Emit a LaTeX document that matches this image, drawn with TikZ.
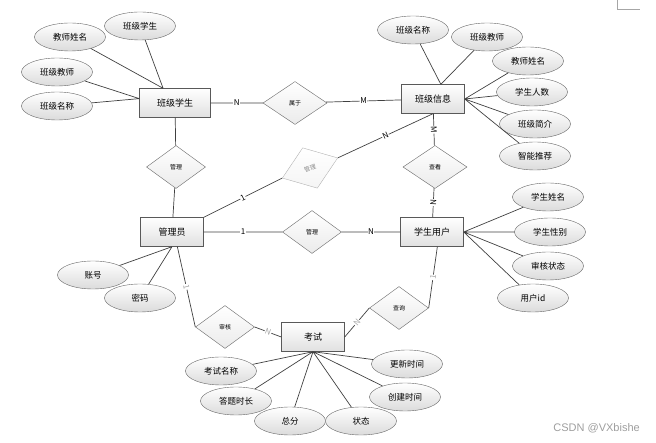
\documentclass[tikz,border=0pt]{standalone}
\usepackage{fontspec}
\setmainfont{Noto Sans CJK SC}
\newfontfamily\wmfont{Liberation Sans}
\usetikzlibrary{shapes.geometric}

\tikzset{
  shiti/.style={draw=black!65, top color=white, bottom color=black!12, minimum width=63pt, minimum height=29pt, inner sep=0pt, font=\fontsize{9}{11}\selectfont},
  shuxing/.style={ellipse, draw=black!60, top color=white, bottom color=black!14, minimum width=71pt, minimum height=28pt, inner sep=0pt, font=\fontsize{8.5}{10}\selectfont},
  lianxi/.style={diamond, draw=black!60, top color=white, bottom color=black!8, minimum width=59pt, minimum height=43pt, inner sep=0pt, font=\fontsize{6}{7}\selectfont},
  xian/.style={draw=black!75, line width=0.7pt},
  biao/.style={font=\fontsize{8}{9}\selectfont, fill=white, inner sep=0.6pt}
}

\begin{document}
\begin{tikzpicture}[x=1pt, y=-1pt]
\useasboundingbox (0,0) rectangle (656,443);

% Entitaeten
\node[shiti, minimum width=71pt] (banji) at (175,103) {班级学生};
\node[shiti] (xinxi) at (433,99) {班级信息};
\node[shiti] (guanli) at (172,232) {管理员};
\node[shiti] (xuesheng) at (432,232) {学生用户};
\node[shiti] (kaoshi) at (313,337) {考试};

% Beziehungen
\node[lianxi, minimum width=64pt] (shuyu) at (295,103) {属于};
\node[lianxi] (gl1) at (176,167) {管理};
\node[lianxi, rotate=20, draw=black!30, bottom color=black!4, text=black!45] (gl2) at (310,168) {管理};
\node[lianxi, minimum width=64pt] (chakan) at (435,167) {查看};
\node[lianxi] (gl3) at (312,232) {管理};
\node[lianxi] (shenhe) at (225,327) {审核};
\node[lianxi] (chaxun) at (399,308) {查询};

% Attribute
\node[shuxing] (a1) at (140,26) {班级学生};
\node[shuxing] (a2) at (70,37) {教师姓名};
\node[shuxing] (a3) at (57,72) {班级教师};
\node[shuxing] (a4) at (57,106) {班级名称};

\node[shuxing] (b1) at (413,30) {班级名称};
\node[shuxing] (b2) at (487,37) {班级教师};
\node[shuxing] (b3) at (528,61) {教师姓名};
\node[shuxing] (b4) at (532,92) {学生人数};
\node[shuxing] (b5) at (535,124) {班级简介};
\node[shuxing] (b6) at (535,156) {智能推荐};

\node[shuxing] (c1) at (93,275) {账号};
\node[shuxing] (c2) at (140,298) {密码};

\node[shuxing] (d1) at (548,197) {学生姓名};
\node[shuxing] (d2) at (550,232) {学生性别};
\node[shuxing] (d3) at (548,266) {审核状态};
\node[shuxing] (d4) at (533,298) {用户id};

\node[shuxing] (e1) at (221,371) {考试名称};
\node[shuxing] (e2) at (236,401) {答题时长};
\node[shuxing] (e3) at (290,421) {总分};
\node[shuxing] (e4) at (361,421) {状态};
\node[shuxing] (e5) at (407,364) {更新时间};
\node[shuxing] (e6) at (405,397) {创建时间};

\node[text=black!38, font=\wmfont\fontsize{11}{13}\selectfont, anchor=east, inner sep=0pt] (shuiyin) at (640,428) {CSDN @VXbishe};

\draw[xian]
(banji) -- node[biao]{N} (shuyu) -- node[biao]{M} (xinxi)
(banji) -- (gl1) -- (guanli)
(guanli.north east) -- node[biao, sloped]{1} (gl2.west)
(gl2.east) -- node[biao, sloped]{N} (xinxi.south)
(xinxi) -- node[biao, sloped]{M} (chakan) -- node[biao, sloped]{N} (xuesheng)
(guanli) -- node[biao]{1} (gl3) -- node[biao]{N} (xuesheng);

\draw[xian]
(guanli.-70) -- node[biao, sloped, text=black!35]{1} (shenhe.west)
(shenhe.east) -- node[biao, sloped, text=black!35]{N} (kaoshi.west)
(kaoshi.east) -- node[biao, sloped, text=black!35]{N} (chaxun.west)
(chaxun.east) -- node[biao, sloped, text=black!35]{1} (xuesheng.-70);

\draw[xian]
(a1) -- (banji.129) (a2) -- (banji.129) (a3) -- (banji.173) (a4) -- (banji.173)
(b1) -- (xinxi.62) (b2) -- (xinxi.62) (b3) -- (xinxi.east) (b4) -- (xinxi.east) (b5) -- (xinxi.east) (b6) -- (xinxi.east)
(c1) -- (guanli.south) (c2) -- (guanli.south)
(d1) -- (xuesheng.east) (d2) -- (xuesheng.east) (d3) -- (xuesheng.east) (d4) -- (xuesheng.east)
(e1) -- (kaoshi.south) (e2) -- (kaoshi.south) (e3) -- (kaoshi.south) (e4) -- (kaoshi.south) (e5) -- (kaoshi.south) (e6) -- (kaoshi.south);

% Seitenecke
\draw[black!35, line width=0.5pt] (617,0) -- (617,9) -- (640,9);
\end{tikzpicture}
\end{document}
